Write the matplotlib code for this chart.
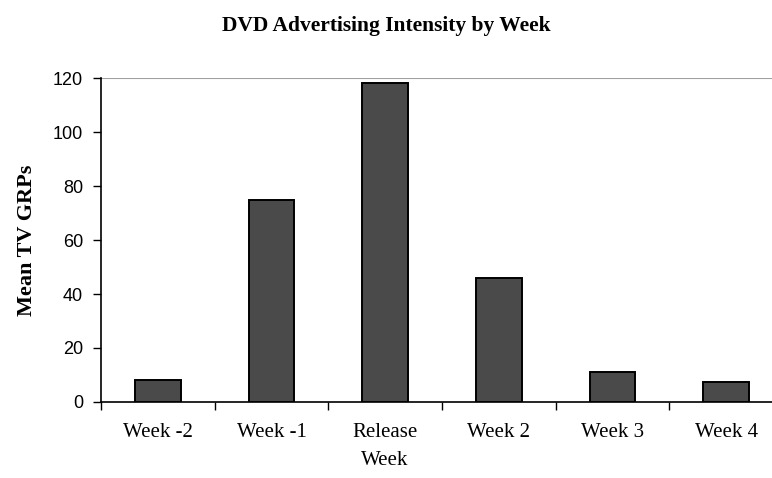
import matplotlib.pyplot as plt

weeks = ['Week -2', 'Week -1', 'Release\nWeek', 'Week 2', 'Week 3', 'Week 4']
mean_grps = [8, 75, 118, 46, 11, 7.5]
yticks = [0, 20, 40, 60, 80, 100, 120]

serif = 'Liberation Serif'
sans = 'Liberation Sans'

fig = plt.figure(figsize=(7.72, 4.78), dpi=100, facecolor='white')
# axes runs a little past the right edge, as in the original
ax = fig.add_axes([0.1308, 0.159, 0.8835, 0.6778])

x = range(len(weeks))
ax.bar(x, mean_grps, width=0.4, color='#4a4a4a', edgecolor='black',
       linewidth=1.4, zorder=3)

ax.set_xlim(-0.5, len(weeks) - 0.5)
ax.set_ylim(0, 120)
ax.set_yticks(yticks)
ax.axhline(120, color='#a0a0a0', linewidth=1.5, zorder=1)

# ticks between categories, labels centered on bars
ax.set_xticks([i - 0.5 for i in range(len(weeks) + 1)])
ax.set_xticklabels([])
ax.set_xticks(list(x), minor=True)
ax.set_xticklabels(weeks, minor=True, fontfamily=serif, fontsize=15,
                   linespacing=1.62)
ax.tick_params(axis='x', which='minor', length=0, pad=15)
ax.tick_params(axis='x', which='major', length=6, width=1, direction='out')
ax.tick_params(axis='y', length=6, width=1, direction='out', pad=7)
for lbl in ax.get_yticklabels():
    lbl.set_fontfamily(sans)
    lbl.set_fontsize(13)

for s in ['top', 'right']:
    ax.spines[s].set_visible(False)
ax.spines['left'].set_linewidth(1.2)
ax.spines['bottom'].set_linewidth(1.2)

ax.set_ylabel('Mean TV GRPs', fontfamily=serif, fontweight='bold',
              fontsize=16, labelpad=11)
fig.text(0.5, 0.945, 'DVD Advertising Intensity by Week', ha='center',
         va='center', fontfamily=serif, fontweight='bold', fontsize=15.5)

fig.savefig('out.png', dpi=100)
